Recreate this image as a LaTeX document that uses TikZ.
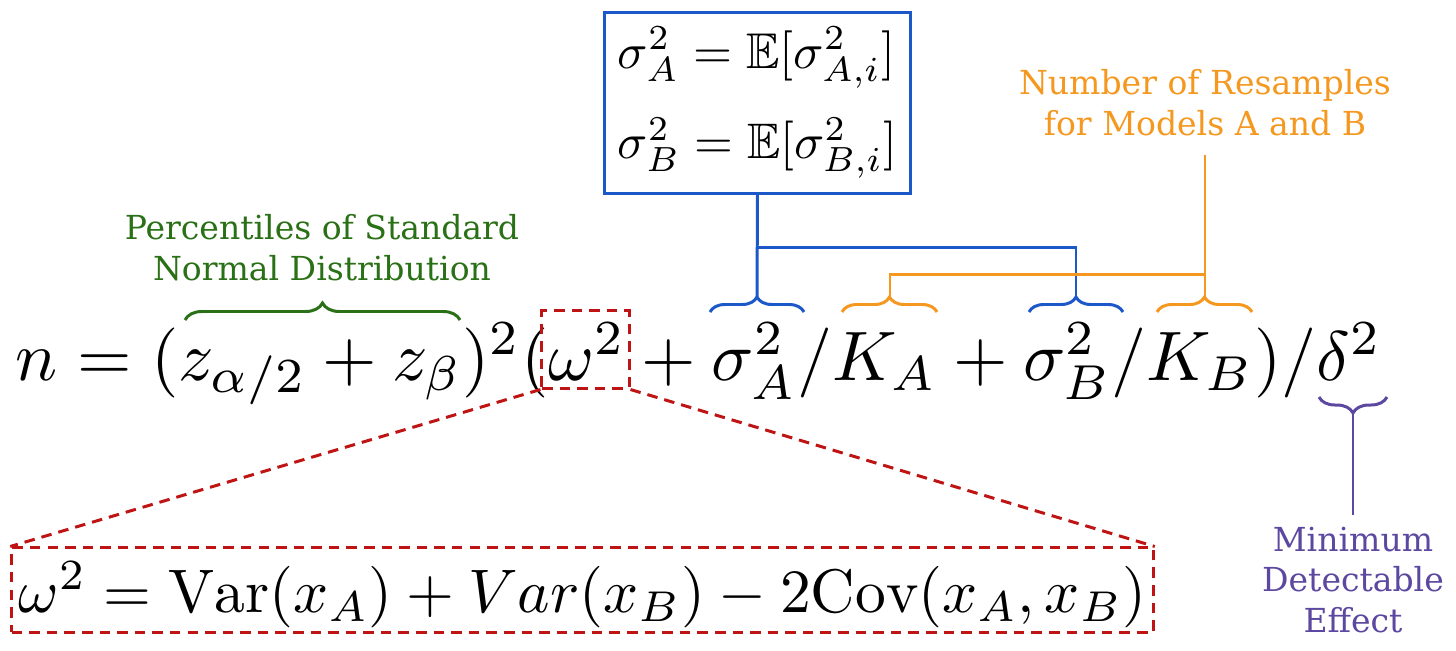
\documentclass[tikz,border=0pt]{standalone}
\usepackage{amsmath,amssymb}
\usepackage{fontspec}
\newfontfamily\lblfont{DejaVu Serif}
\usetikzlibrary{decorations.pathreplacing}
\definecolor{cgreen}{RGB}{42,112,22}
\definecolor{cblue}{RGB}{28,88,200}
\definecolor{corange}{RGB}{245,152,32}
\definecolor{cpurple}{RGB}{92,72,160}
\definecolor{cred}{RGB}{190,20,20}
\begin{document}
\begin{tikzpicture}[x=0.01cm,y=0.01cm,
  lbl/.style={font=\lblfont\fontsize{9.4}{11.4}\selectfont, align=center, inner sep=0},
  brc/.style={decorate, decoration={brace, amplitude=0.15cm}, line width=0.85pt},
  conn/.style={line width=0.85pt},
  reddash/.style={draw=cred, line width=0.85pt, dash pattern=on 3pt off 2pt},
  eqn/.style={inner sep=0, anchor=base west}]
\useasboundingbox (0,0) rectangle (1456,650);

% main equation
\node[eqn] (eq) at (15,270) {\resizebox{13.65cm}{!}{$n = (z_{\alpha/2} + z_\beta)^2(\omega^2 + \sigma_A^2/K_A + \sigma_B^2/K_B)/\delta^2$}};

% green
\coordinate (g1) at (185,330);
\coordinate (g2) at (460,330);
\draw[brc, cgreen, decoration={amplitude=0.17cm}] (g1) -- (g2);
\node[lbl, text=cgreen, anchor=base] (glbl) at (322,370) {Percentiles of Standard\\Normal Distribution};

% red dashed
\node[reddash, minimum width=0.87cm, minimum height=0.77cm, inner sep=0] (wbox) at (585.5,300.5) {};
\node[reddash, minimum width=11.41cm, minimum height=0.84cm, inner sep=0] (bbox) at (582.5,60) {};
\node[eqn] (omeq) at (18,38) {\resizebox{11.27cm}{!}{$\omega^2 = \mathrm{Var}(x_A) + Var(x_B) - 2\mathrm{Cov}(x_A, x_B)$}};
\draw[reddash] (wbox.south west) -- (bbox.north west);
\draw[reddash] (wbox.south east) -- (bbox.north east);

% blue
\node[draw=cblue, line width=0.85pt, minimum width=3.05cm, minimum height=1.80cm, inner sep=0,
      align=left, font=\fontsize{10}{25.6}\selectfont] (sbox) at (757.5,547)
  {\resizebox{2.77cm}{!}{$\sigma_A^2 = \mathbb{E}[\sigma_{A,i}^2]$}\\
   \resizebox{2.79cm}{!}{$\sigma_B^2 = \mathbb{E}[\sigma_{B,i}^2]$}};
\coordinate (b1a) at (710,338);
\coordinate (b1b) at (804,338);
\coordinate (b1t) at (757,353);
\coordinate (b2a) at (1029,338);
\coordinate (b2b) at (1123,338);
\coordinate (b2t) at (1076,353);
\draw[brc, cblue] (b1a) -- (b1b);
\draw[brc, cblue] (b2a) -- (b2b);
\coordinate (bj) at (757,403);
\draw[conn, cblue] (sbox.south) -- (b1t);
\draw[conn, cblue] (bj) -| (b2t);

% orange
\coordinate (o1a) at (842,338);
\coordinate (o1b) at (937,338);
\coordinate (o1t) at (890,353);
\coordinate (o2a) at (1157,338);
\coordinate (o2b) at (1252,338);
\coordinate (o2t) at (1205,353);
\draw[brc, corange] (o1a) -- (o1b);
\draw[brc, corange] (o2a) -- (o2b);
\node[lbl, text=corange, anchor=base] (olbl) at (1205,515) {Number of Resamples\\for Models A and B};
\coordinate (otop) at (1205,495);
\coordinate (oj) at (1205,376);
\draw[conn, corange] (otop) -- (o2t);
\draw[conn, corange] (oj) -| (o1t);

% purple
\coordinate (p1) at (1387,253);
\coordinate (p2) at (1319,253);
\coordinate (pt) at (1353,238);
\draw[brc, cpurple, decoration={amplitude=0.16cm}] (p1) -- (p2);
\node[lbl, text=cpurple, anchor=base] (plbl) at (1353,18) {Minimum\\Detectable\\Effect};
\coordinate (pbot) at (1353,135);
\draw[conn, cpurple] (pt) -- (pbot);
\end{tikzpicture}
\end{document}
